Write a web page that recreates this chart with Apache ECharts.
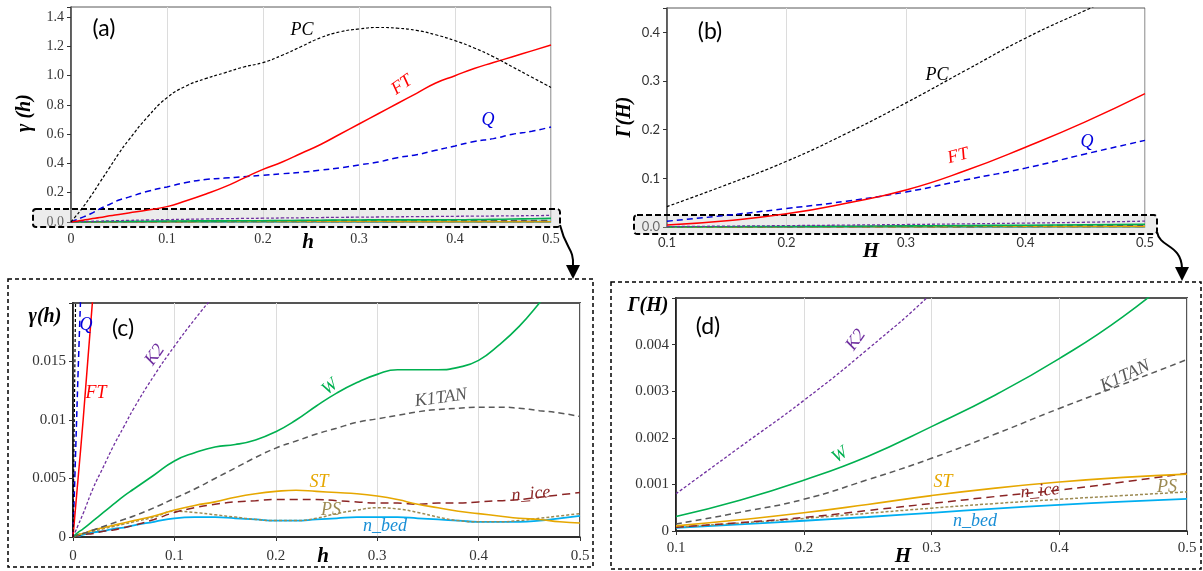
<!DOCTYPE html>
<html>
<head>
<meta charset="utf-8">
<script src="https://cdn.jsdelivr.net/npm/echarts@6/dist/echarts.min.js"></script>
<style>
  html, body { margin: 0; padding: 0; background: #fff; }
  #chart { width: 1203px; height: 571px; }
</style>
</head>
<body>
<div id="chart"></div>
<script>
// lag h for panels (a) and (c)
const hA = [0, 0.0025, 0.005, 0.01, 0.02, 0.03, 0.04, 0.05, 0.06, 0.08, 0.1, 0.12, 0.14, 0.16, 0.18, 0.2,
  0.22, 0.24, 0.26, 0.28, 0.3, 0.32, 0.34, 0.36, 0.38, 0.4, 0.42, 0.44, 0.46, 0.48, 0.5];
const pcA = [0, 0.02, 0.04, 0.08, 0.17, 0.27, 0.37, 0.47, 0.56, 0.72, 0.85, 0.93, 0.98, 1.02, 1.06, 1.09,
  1.14, 1.2, 1.26, 1.3, 1.32, 1.33, 1.325, 1.31, 1.28, 1.24, 1.19, 1.13, 1.06, 0.99, 0.92];
const ftA = [0, 0.0025, 0.005, 0.01, 0.021, 0.031, 0.042, 0.052, 0.062, 0.082, 0.105, 0.145, 0.19, 0.24, 0.3, 0.36,
  0.41, 0.47, 0.53, 0.6, 0.67, 0.74, 0.81, 0.88, 0.95, 1.0, 1.05, 1.09, 1.13, 1.17, 1.21];
const qA = [0, 0.007, 0.014, 0.027, 0.055, 0.09, 0.12, 0.15, 0.17, 0.21, 0.24, 0.27, 0.29, 0.3, 0.31, 0.32,
  0.33, 0.34, 0.355, 0.37, 0.39, 0.41, 0.44, 0.46, 0.49, 0.52, 0.55, 0.57, 0.6, 0.62, 0.65];
const k2A = [0, 0.0005, 0.001, 0.002, 0.0042, 0.006, 0.0078, 0.0094, 0.011, 0.0138, 0.0163, 0.0186, 0.0207, 0.0226, 0.0244, 0.026,
  0.0276, 0.029, 0.0305, 0.032, 0.033, 0.0343, 0.0355, 0.0367, 0.0378, 0.039, 0.04, 0.041, 0.042, 0.0435, 0.045];
const wA = [0, 0.0002, 0.0004, 0.0007, 0.0014, 0.0021, 0.0028, 0.0035, 0.0041, 0.0053, 0.0065, 0.0072, 0.0077, 0.0079, 0.0083, 0.009,
  0.01, 0.0112, 0.0123, 0.0132, 0.0139, 0.0143, 0.0143, 0.0143, 0.0145, 0.0151, 0.0164, 0.018, 0.02, 0.0222, 0.0245];
const k1tanA = [0, 0.0001, 0.0002, 0.0003, 0.0006, 0.0009, 0.0012, 0.0015, 0.0018, 0.0025, 0.0033, 0.0041, 0.005, 0.0059, 0.0068, 0.0076,
  0.0082, 0.0088, 0.0093, 0.0098, 0.0101, 0.0104, 0.0107, 0.0109, 0.011, 0.0111, 0.0111, 0.011, 0.0108, 0.0106, 0.0103];
const stA = [0, 0.0001, 0.0002, 0.0003, 0.0006, 0.0008, 0.001, 0.0012, 0.0014, 0.0018, 0.0023, 0.0027, 0.003, 0.0034, 0.0037, 0.0039,
  0.004, 0.0039, 0.0038, 0.0037, 0.0035, 0.0032, 0.0028, 0.0025, 0.0022, 0.002, 0.0018, 0.0016, 0.0015, 0.0013, 0.0012];
const niceA = [0, 0.00005, 0.0001, 0.0002, 0.0003, 0.0005, 0.0006, 0.0008, 0.001, 0.0015, 0.0021, 0.0025, 0.0028, 0.003, 0.0031, 0.0032,
  0.0032, 0.0032, 0.0031, 0.003, 0.0029, 0.0029, 0.0028, 0.0029, 0.0029, 0.003, 0.0031, 0.0032, 0.0034, 0.0036, 0.0038];
const psA = [0, 0.0001, 0.0002, 0.0003, 0.0005, 0.0007, 0.0009, 0.0011, 0.0013, 0.0017, 0.0022, 0.0021, 0.0019, 0.0017, 0.0015, 0.0014,
  0.0014, 0.0016, 0.002, 0.0023, 0.0025, 0.0024, 0.0021, 0.0017, 0.0014, 0.0013, 0.0013, 0.0014, 0.0016, 0.0018, 0.002];
const nbedA = [0, 0.0001, 0.0001, 0.0002, 0.0004, 0.0005, 0.0007, 0.0008, 0.001, 0.0013, 0.0016, 0.0017, 0.0017, 0.0016, 0.0015, 0.0014,
  0.0014, 0.0015, 0.0016, 0.0017, 0.0017, 0.0017, 0.0016, 0.0015, 0.0014, 0.0013, 0.0013, 0.0013, 0.0014, 0.0016, 0.0018];

// lag H for panels (b) and (d)
const hB = [0.1, 0.15, 0.2, 0.25, 0.3, 0.35, 0.4, 0.45, 0.5];
const pcB = [0.042, 0.087, 0.135, 0.192, 0.255, 0.322, 0.388, 0.445, 0.5];
const ftB = [0.004, 0.013, 0.027, 0.049, 0.076, 0.116, 0.164, 0.216, 0.274];
const qB = [0.012, 0.024, 0.038, 0.053, 0.072, 0.097, 0.121, 0.15, 0.178];
const k2B = [0.0008, 0.0018, 0.0028, 0.0039, 0.0051, 0.0065, 0.008, 0.0098, 0.012];
const wB = [0.00031, 0.00066, 0.00109, 0.0016, 0.00224, 0.00292, 0.0037, 0.0046, 0.0057];
const k1tanB = [0.00015, 0.0004, 0.00068, 0.0011, 0.00156, 0.00208, 0.00263, 0.00315, 0.00368];
const stB = [0.00011, 0.00024, 0.00039, 0.00057, 0.00076, 0.00092, 0.00105, 0.00115, 0.00122];
const niceB = [0.00008, 0.00018, 0.00029, 0.00044, 0.00059, 0.00074, 0.00088, 0.00105, 0.00124];
const psB = [0.00008, 0.00017, 0.00027, 0.00038, 0.00049, 0.00059, 0.00068, 0.00076, 0.00084];
const nbedB = [0.00007, 0.00014, 0.00022, 0.0003, 0.00039, 0.00048, 0.00056, 0.00063, 0.00069];

const styles = {
  PC: { color: "#000000", width: 1.2, type: [3, 2] },
  FT: { color: "#ff0000", width: 1.5, type: "solid" },
  Q: { color: "#0000dd", width: 1.5, type: [6, 4] },
  K2: { color: "#7030a0", width: 1.3, type: [3, 2] },
  W: { color: "#00b050", width: 1.6, type: "solid" },
  K1TAN: { color: "#595959", width: 1.5, type: [6, 4] },
  ST: { color: "#e6a700", width: 1.6, type: "solid" },
  n_ice: { color: "#8b2525", width: 1.5, type: [8, 5] },
  PS: { color: "#9c8a52", width: 1.5, type: [3, 2] },
  n_bed: { color: "#00aef0", width: 1.8, type: "solid" },
};

const setA = { PC: pcA, FT: ftA, Q: qA, K2: k2A, W: wA, K1TAN: k1tanA, ST: stA, n_ice: niceA, PS: psA, n_bed: nbedA };
const setB = { PC: pcB, FT: ftB, Q: qB, K2: k2B, W: wB, K1TAN: k1tanB, ST: stB, n_ice: niceB, PS: psB, n_bed: nbedB };
const smallOnes = ["K2", "W", "K1TAN", "ST", "n_ice", "PS", "n_bed"];

function mkSeries(name, xs, ys, idx) {
  const s = styles[name];
  return {
    name: name + idx,
    type: "line",
    xAxisIndex: idx,
    yAxisIndex: idx,
    data: xs.map((x, i) => [x, ys[i]]),
    showSymbol: false,
    smooth: 0.5,
    clip: true,
    lineStyle: { color: s.color, width: s.width, type: s.type },
  };
}

const series = [];
const drawOrder = ["n_bed", "PS", "n_ice", "ST", "K1TAN", "W", "K2", "Q", "FT", "PC"];
drawOrder.forEach((n) => series.push(mkSeries(n, hA, setA[n], 0)));
drawOrder.forEach((n) => series.push(mkSeries(n, hB, setB[n], 1)));
drawOrder.forEach((n) => series.push(mkSeries(n, hA, setA[n], 2)));
drawOrder.filter((n) => smallOnes.includes(n)).forEach((n) => series.push(mkSeries(n, hB, setB[n], 3)));

const serif = "Liberation Serif";
const sans = "Lato";

function onStep(step, digits, hideAbove) {
  return (v) => {
    if (hideAbove !== undefined && v >= hideAbove) return "";
    const k = v / step;
    if (Math.abs(k - Math.round(k)) > 1e-6) return "";
    return digits === null ? String(+v.toFixed(4)) : v.toFixed(digits);
  };
}

function xAx(idx, min, font, size, margin) {
  return {
    gridIndex: idx, type: "value", min: min, max: 0.5, interval: 0.1,
    axisLine: { show: true, onZero: false, lineStyle: { color: idx >= 2 ? "#222" : "#bfbfbf", width: idx >= 2 ? 1.5 : 1 } },
    axisTick: { show: idx >= 2, length: 4, lineStyle: { color: "#333" } },
    splitLine: { show: true, lineStyle: { color: "#dcdcdc", width: 1 } },
    axisLabel: { fontFamily: font, fontSize: size, color: "#333", margin: margin },
  };
}
function yAx(idx, max, step, digits, hide, font, size) {
  return {
    gridIndex: idx, type: "value", min: 0, max: max, interval: step,
    axisLine: { show: true, lineStyle: { color: idx >= 2 ? "#111" : "#404040", width: 1.5 } },
    axisTick: { show: true, length: 4, lineStyle: { color: "#333" } },
    splitLine: { show: false },
    axisLabel: { fontFamily: font, fontSize: size, color: "#333", margin: 7, formatter: onStep(step, digits, hide) },
  };
}

function txt(x, y, s, color, size, rotDeg, opts) {
  opts = opts || {};
  return {
    type: "text", x: x, y: y, rotation: ((rotDeg || 0) * Math.PI) / 180, z: 100,
    style: {
      text: s, fill: color, align: "center", verticalAlign: "middle",
      font: (opts.style || "italic") + " " + (opts.weight || "normal") + " " + size + "px " + (opts.family || serif),
    },
  };
}

const graphics = [
  // highlight boxes on (a) and (b)
  { type: "rect", z: 1, shape: { x: 33, y: 209, width: 527, height: 18, r: 3 },
    style: { fill: "rgba(200,200,200,0.35)", stroke: "#000", lineWidth: 2, lineDash: [6, 3] } },
  { type: "rect", z: 1, shape: { x: 634, y: 215, width: 523, height: 19, r: 3 },
    style: { fill: "rgba(200,200,200,0.35)", stroke: "#000", lineWidth: 2, lineDash: [6, 3] } },
  // zoom frames (c) and (d)
  { type: "rect", z: 1, shape: { x: 8, y: 279, width: 585, height: 288 },
    style: { fill: null, stroke: "#000", lineWidth: 1.5, lineDash: [4, 3] } },
  { type: "rect", z: 1, shape: { x: 611, y: 282, width: 590, height: 287 },
    style: { fill: null, stroke: "#000", lineWidth: 1.5, lineDash: [4, 3] } },
  // arrows
  { type: "bezierCurve", z: 2, shape: { x1: 560, y1: 225, x2: 573, y2: 266, cpx1: 566, cpy1: 250, cpx2: 574, cpy2: 248 },
    style: { stroke: "#000", lineWidth: 2, fill: null } },
  { type: "polygon", z: 2, shape: { points: [[566, 265], [580, 265], [573, 279]] }, style: { fill: "#000" } },
  { type: "bezierCurve", z: 2, shape: { x1: 1157, y1: 232, x2: 1182, y2: 268, cpx1: 1160, cpy1: 248, cpx2: 1181, cpy2: 244 },
    style: { stroke: "#000", lineWidth: 2, fill: null } },
  { type: "polygon", z: 2, shape: { points: [[1175, 267], [1189, 267], [1182, 281]] }, style: { fill: "#000" } },

  // panel tags
  txt(104, 29, "(a)", "#000", 23, 0, { style: "normal", family: sans }),
  txt(710, 32, "(b)", "#000", 23, 0, { style: "normal", family: sans }),
  txt(123, 329, "(c)", "#000", 23, 0, { style: "normal", family: sans }),
  txt(708, 327, "(d)", "#000", 23, 0, { style: "normal", family: sans }),

  // axis names
  txt(25, 113, "\u03b3 (h)", "#000", 20, 90, { weight: "bold" }),
  txt(308, 243, "h", "#000", 21, 0, { weight: "bold" }),
  txt(625, 117, "\u0393(H)", "#000", 20, 90, { weight: "bold" }),
  txt(871, 252, "H", "#000", 21, 0, { weight: "bold" }),
  txt(45, 317, "\u03b3(h)", "#000", 20, 0, { weight: "bold" }),
  txt(323, 557, "h", "#000", 21, 0, { weight: "bold" }),
  txt(648, 306, "\u0393(H)", "#000", 20, 0, { weight: "bold" }),
  txt(903, 557, "H", "#000", 21, 0, { weight: "bold" }),

  // curve labels (a)
  txt(302, 30, "PC", "#000", 18, 0),
  txt(402, 85, "FT", "#ff0000", 18, 35),
  txt(488, 120, "Q", "#0000dd", 18, 0),
  // (b)
  txt(937, 75, "PC", "#000", 18, 0),
  txt(958, 156, "FT", "#ff0000", 18, 15),
  txt(1087, 142, "Q", "#0000dd", 18, 0),
  // (c)
  txt(86, 325, "Q", "#0000dd", 18, 0),
  txt(96, 393, "FT", "#ff0000", 18, 0),
  txt(155, 355, "K2", "#7030a0", 18, 55),
  txt(330, 387, "W", "#00b050", 18, 40),
  txt(441, 398, "K1TAN", "#595959", 18, 8),
  txt(319, 482, "ST", "#e6a700", 18, 0),
  txt(531, 494, "n_ice", "#8b2525", 18, 5),
  txt(331, 510, "PS", "#9c8a52", 18, 0),
  txt(385, 526, "n_bed", "#1a8fd6", 18, 0),
  // (d)
  txt(856, 340, "K2", "#7030a0", 18, 55),
  txt(840, 455, "W", "#00b050", 18, 35),
  txt(1125, 376, "K1TAN", "#595959", 18, 25),
  txt(943, 482, "ST", "#e6a700", 18, 0),
  txt(1040, 491, "n_ice", "#8b2525", 18, 5),
  txt(1167, 487, "PS", "#9c8a52", 18, 0),
  txt(975, 521, "n_bed", "#1a8fd6", 18, 0),
];

const chart = echarts.init(document.getElementById("chart"));
chart.setOption({
  animation: false,
  backgroundColor: "#ffffff",
  grid: [
    { left: 71, top: 7, width: 480, height: 215, show: true, borderColor: "#595959", borderWidth: 1 },
    { left: 667, top: 8, width: 478, height: 219, show: true, borderColor: "#595959", borderWidth: 1 },
    { left: 73, top: 303, width: 507, height: 234, show: true, borderColor: "#555", borderWidth: 2 },
    { left: 676, top: 298, width: 511, height: 233, show: true, borderColor: "#555", borderWidth: 2 },
  ],
  xAxis: [
    xAx(0, 0, serif, 14, 10),
    xAx(1, 0.1, sans, 13, 9),
    xAx(2, 0, serif, 15, 12),
    xAx(3, 0.1, serif, 15, 10),
  ],
  yAxis: [
    yAx(0, 1.47, 0.2, 1, undefined, serif, 14),
    yAx(1, 0.45, 0.1, 1, undefined, sans, 13),
    yAx(2, 0.02, 0.005, null, 0.0199, serif, 15),
    yAx(3, 0.005, 0.001, null, 0.00499, serif, 15),
  ],
  series: series,
  graphic: graphics,
});
</script>
</body>
</html>
